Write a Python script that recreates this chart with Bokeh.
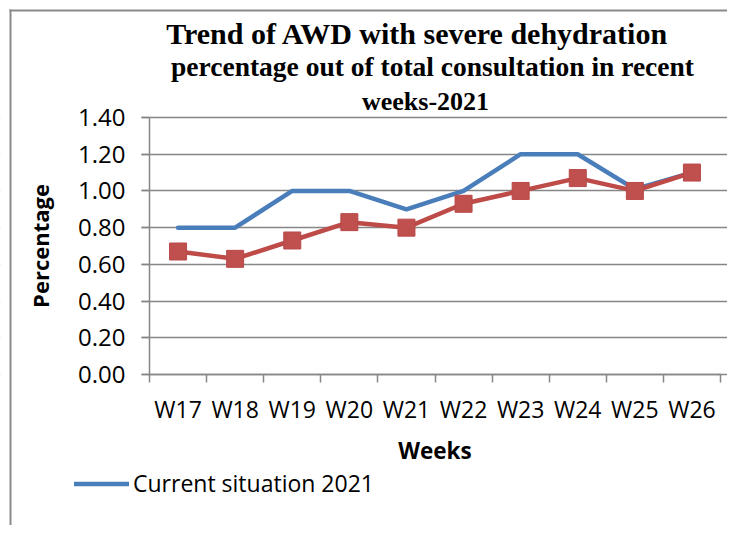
from bokeh.plotting import figure
from bokeh.models import FixedTicker, Legend, LegendItem, Label, BoxAnnotation
from bokeh.embed import file_html
from bokeh.resources import INLINE

weeks = ["W17", "W18", "W19", "W20", "W21", "W22", "W23", "W24", "W25", "W26"]
current_2021 = [0.80, 0.80, 1.00, 1.00, 0.90, 1.00, 1.20, 1.20, 1.01, 1.10]
second_series = [0.67, 0.63, 0.73, 0.83, 0.80, 0.93, 1.00, 1.07, 1.00, 1.10]
y_ticks = [0.0, 0.2, 0.4, 0.6, 0.8, 1.0, 1.2, 1.4]
title_lines = ["Trend of AWD with severe dehydration",
               "percentage out of total consultation in recent",
               "weeks-2021"]

W, H = 727, 525
# plot-area placement inside the canvas (px)
PL, PR, PT, PB = 149, 720, 117, 374
n = len(weeks)
y_max = 1.4
xpx = (PR - PL) / n
ypx = (PB - PT) / y_max

xs = [i + 0.5 for i in range(n)]

p = figure(width=W, height=H, output_backend="svg", toolbar_location=None,
           x_range=(-PL / xpx, n + (W - PR) / xpx),
           y_range=(-(H - PB) / ypx, y_max + PT / ypx),
           min_border_left=0, min_border_right=0, min_border_top=0, min_border_bottom=0)
p.outline_line_color = None
p.background_fill_color = "white"
p.border_fill_color = "white"

GRAY = "#868686"
LABEL_FONT = "Open Sans"

# grid
p.ygrid.ticker = FixedTicker(ticks=y_ticks)
p.ygrid.grid_line_color = GRAY
p.ygrid.grid_line_width = 1.5
p.xgrid.grid_line_color = None
mask = BoxAnnotation(left=-100, right=-8 / xpx, bottom=-100, top=100,
                     fill_color="white", fill_alpha=1, line_color=None, level="underlay")
p.add_layout(mask)

# x axis
p.xaxis.fixed_location = 0
p.xaxis.bounds = (0, n)
p.xaxis.ticker = FixedTicker(ticks=xs, minor_ticks=list(range(n + 1)))
p.xaxis.major_label_overrides = {x: w for x, w in zip(xs, weeks)}
p.xaxis.major_tick_out = 0
p.xaxis.major_tick_in = 0
p.xaxis.minor_tick_out = 8
p.xaxis.minor_tick_in = 0
p.xaxis.minor_tick_line_color = GRAY
p.xaxis.minor_tick_line_width = 1.5
p.xaxis.axis_line_color = GRAY
p.xaxis.axis_line_width = 1.5
p.xaxis.major_label_text_font = LABEL_FONT
p.xaxis.major_label_text_font_size = "23px"
p.xaxis.major_label_text_color = "black"
p.xaxis.major_label_standoff = 10
p.xaxis.axis_label = "Weeks"
p.xaxis.axis_label_text_font = LABEL_FONT
p.xaxis.axis_label_text_font_size = "22.5px"
p.xaxis.axis_label_text_font_style = "bold"
p.xaxis.axis_label_text_color = "black"
p.xaxis.axis_label_standoff = 7

# y axis
p.yaxis.fixed_location = 0
p.yaxis.bounds = (0, y_max)
p.yaxis.ticker = FixedTicker(ticks=y_ticks, minor_ticks=[])
p.yaxis.major_label_overrides = {t: f"{t:.2f}" for t in y_ticks}
p.yaxis.major_tick_out = 8
p.yaxis.major_tick_in = 0
p.yaxis.major_tick_line_color = GRAY
p.yaxis.major_tick_line_width = 1.5
p.yaxis.axis_line_color = GRAY
p.yaxis.axis_line_width = 1.5
p.yaxis.major_label_text_font = LABEL_FONT
p.yaxis.major_label_text_font_size = "24px"
p.yaxis.major_label_text_color = "black"
p.yaxis.major_label_standoff = 16
p.yaxis.axis_label = "Percentage"
p.yaxis.axis_label_text_font = LABEL_FONT
p.yaxis.axis_label_text_font_size = "22px"
p.yaxis.axis_label_text_font_style = "bold"
p.yaxis.axis_label_text_color = "black"
p.yaxis.axis_label_standoff = 20

# title lines
for txt, size, cx, cy in zip(title_lines, ["30px", "27.5px", "26px"], [417, 432, 425], [33, 66, 101]):
    p.add_layout(Label(x=cx, y=H - cy, x_units="screen", y_units="screen", text=txt,
                       text_align="center", text_baseline="middle", text_font="Liberation Serif",
                       text_font_size=size, text_font_style="bold", text_color="black"))

# outer chart border (left and top edges visible), drawn as thin filled strips
BORDER = "#8a8a8a"
bx0, bx1 = (9 - PL) / xpx, (11 - PL) / xpx
by0, by1 = y_max + (PT - 9) / ypx, y_max + (PT - 11) / ypx
p.add_layout(BoxAnnotation(left=bx0, right=bx1, top=by0, bottom=-100,
                           fill_color=BORDER, fill_alpha=1, line_color=None, level="overlay"))
p.add_layout(BoxAnnotation(left=bx0, right=100, top=by0, bottom=by1,
                           fill_color=BORDER, fill_alpha=1, line_color=None, level="overlay"))

blue = p.line(xs, current_2021, line_color="#4A7EBB", line_width=4.5, line_cap="round", line_join="round")
p.line(xs, second_series, line_color="#BE4B48", line_width=4.5, line_join="round")
p.scatter(xs, second_series, marker="square", size=17, fill_color="#C0504D", line_color="#B9484A", line_width=1)

legend = Legend(items=[LegendItem(label="Current situation 2021", renderers=[blue])],
                location=(74, 26), padding=0, margin=0, spacing=0,
                glyph_width=55, glyph_height=23, label_height=23, label_standoff=4,
                label_text_font=LABEL_FONT, label_text_font_size="23px", label_text_color="black",
                border_line_color=None, background_fill_alpha=0)
p.add_layout(legend, "center")

open("out.html", "w").write(file_html(p, INLINE))
